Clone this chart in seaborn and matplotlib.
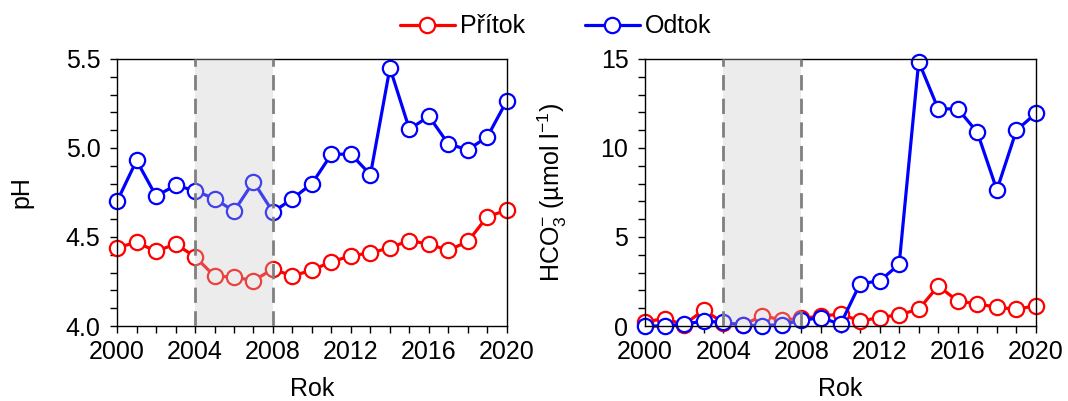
import numpy as np
import pandas as pd
import matplotlib
matplotlib.use("Agg")
import matplotlib.pyplot as plt
import seaborn as sns
from matplotlib.ticker import MultipleLocator, FormatStrFormatter

# Data
years = list(range(2000, 2021))
ph_pritok = [4.44, 4.47, 4.42, 4.46, 4.39, 4.28, 4.275, 4.255, 4.32, 4.28, 4.315,
             4.36, 4.395, 4.41, 4.44, 4.48, 4.46, 4.425, 4.475, 4.615, 4.65]
ph_odtok = [4.70, 4.93, 4.73, 4.79, 4.76, 4.715, 4.645, 4.81, 4.64, 4.715, 4.80,
            4.965, 4.965, 4.85, 5.45, 5.105, 5.178, 5.022, 4.99, 5.063, 5.266]
hco3_pritok = [0.24, 0.41, 0.08, 0.9, 0.19, 0.05, 0.58, 0.34, 0.43, 0.56, 0.67,
               0.28, 0.47, 0.64, 0.94, 2.25, 1.40, 1.25, 1.05, 0.94, 1.14]
hco3_odtok = [0.0, 0.0, 0.1, 0.28, 0.2, 0.05, 0.02, 0.08, 0.32, 0.47, 0.1,
              2.38, 2.53, 3.46, 14.85, 12.19, 12.2, 10.88, 7.64, 10.99, 11.95]
span = (2004, 2008)

series = {"Přítok": "#ff0000", "Odtok": "#0000ff"}

sns.set_style("ticks")
plt.rcParams["font.family"] = ["Liberation Sans", "DejaVu Sans"]
plt.rcParams["mathtext.fontset"] = "custom"
plt.rcParams["mathtext.rm"] = "Liberation Sans"
plt.rcParams["mathtext.it"] = "Liberation Sans:italic"
plt.rcParams["font.size"] = 18
plt.rcParams["text.color"] = "black"
plt.rcParams["axes.labelcolor"] = "black"
plt.rcParams["xtick.color"] = "black"
plt.rcParams["ytick.color"] = "black"

fig = plt.figure(figsize=(10.68, 4.01), dpi=100)
ax1 = fig.add_axes([0.1096, 0.187, 0.365, 0.666])
ax2 = fig.add_axes([0.604, 0.187, 0.366, 0.666])

df_ph = pd.DataFrame({"Rok": years, "Přítok": ph_pritok, "Odtok": ph_odtok})
df_hco3 = pd.DataFrame({"Rok": years, "Přítok": hco3_pritok, "Odtok": hco3_odtok})


def draw(ax, df, ylim, major, minor, ylabel, ylab_x):
    for name, col in series.items():
        sns.lineplot(data=df, x="Rok", y=name, ax=ax, color=col, label=name,
                     marker="o", markersize=11, markerfacecolor="white",
                     markeredgecolor=col, markeredgewidth=1.6, linewidth=2.3,
                     clip_on=False, legend=False, zorder=2)
    ax.axvspan(*span, color="#c8c8c8", alpha=0.33, lw=0, zorder=3)
    for x in span:
        ax.axvline(x, color="#808080", lw=2, ls=(0, (5.5, 3)), zorder=4)
    ax.set_xlim(2000, 2020)
    ax.set_ylim(*ylim)
    ax.xaxis.set_major_locator(MultipleLocator(4))
    ax.xaxis.set_minor_locator(MultipleLocator(1))
    ax.yaxis.set_major_locator(MultipleLocator(major))
    ax.yaxis.set_minor_locator(MultipleLocator(minor))
    ax.tick_params(which="both", direction="out", width=1, length=5,
                   labelsize=18)
    ax.tick_params(axis="y", which="major", pad=7)
    ax.tick_params(axis="x", which="major", pad=5)
    for s in ax.spines.values():
        s.set_linewidth(1)
        s.set_color("black")
    ax.set_xlabel("Rok", fontsize=18)
    ax.set_ylabel(ylabel, fontsize=18)
    ax.xaxis.set_label_coords(0.5, -0.19)
    ax.yaxis.set_label_coords(ylab_x, 0.5)


draw(ax1, df_ph, (4.0, 5.5), 0.5, 0.1, "pH", -0.215)
ax1.yaxis.set_major_formatter(FormatStrFormatter("%.1f"))
draw(ax2, df_hco3, (0, 15), 5, 1, "HCO$_3^{\u2212}$ (µmol l$^{\u22121}$)", -0.195)

handles, labels = ax1.get_legend_handles_labels()
fig.legend(handles, labels, loc="upper center", bbox_to_anchor=(0.52, 1.02),
           ncol=2, frameon=False, fontsize=18, columnspacing=2.4,
           handlelength=2.2, handletextpad=0.2)

fig.savefig("out.png", dpi=100)
